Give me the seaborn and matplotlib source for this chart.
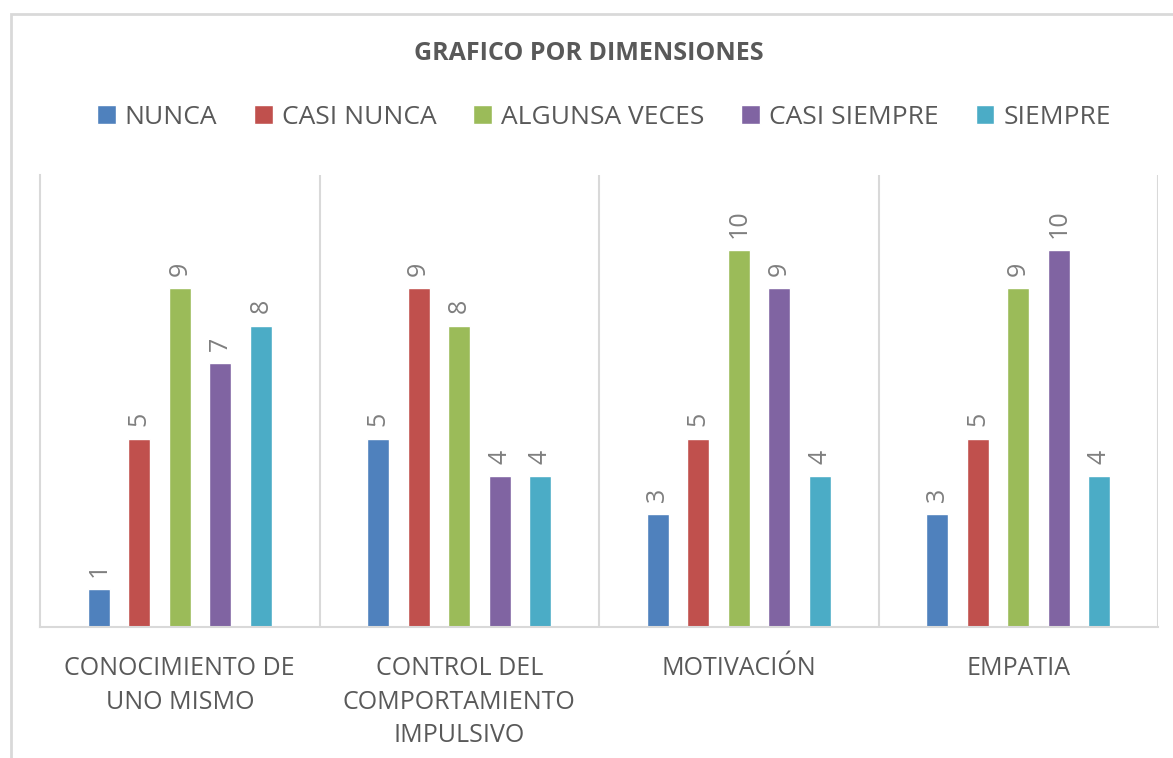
import numpy as np
import pandas as pd
import matplotlib
matplotlib.use("Agg")
import matplotlib.pyplot as plt
import matplotlib.patches as mpatches
import seaborn as sns

# datos
dimensiones = ["CONOCIMIENTO DE\nUNO MISMO", "CONTROL DEL\nCOMPORTAMIENTO\nIMPULSIVO",
               "MOTIVACIÓN", "EMPATIA"]
respuestas = ["NUNCA", "CASI NUNCA", "ALGUNSA VECES", "CASI SIEMPRE", "SIEMPRE"]
nunca = [1, 5, 3, 3]
casi_nunca = [5, 9, 5, 5]
algunas_veces = [9, 8, 10, 9]
casi_siempre = [7, 4, 9, 10]
siempre = [8, 4, 4, 4]

colores = ["#4F81BD", "#C0504D", "#9BBB59", "#8064A2", "#4BACC6"]
GRIS = "#595959"
LINEA = "#D9D9D9"

df = pd.DataFrame({
    "dimension": dimensiones * 5,
    "respuesta": np.repeat(respuestas, len(dimensiones)),
    "valor": nunca + casi_nunca + algunas_veces + casi_siempre + siempre,
})

sns.set_theme(style="white")
plt.rcParams["font.family"] = ["Open Sans", "DejaVu Sans"]

fig = plt.figure(figsize=(11.73, 7.58), dpi=100)
ax = fig.add_axes([40 / 1173, 1 - 627 / 758, 1118 / 1173, 452 / 758])

sns.barplot(data=df, x="dimension", y="valor", hue="respuesta", order=dimensiones,
            hue_order=respuestas, palette=colores, width=0.725, gap=0.46,
            saturation=1, ax=ax, legend=True)

for cont in ax.containers:
    ax.bar_label(cont, rotation=90, padding=9, fontsize=18, color="#7F7F7F")

ax.set_ylim(0, 12)
ax.set_xlim(-0.5, 3.5)
ax.set_yticks([])
ax.set_xlabel("")
ax.set_ylabel("")
for s in ["top", "right"]:
    ax.spines[s].set_visible(False)
ax.spines["left"].set_color(LINEA)
ax.spines["bottom"].set_color(LINEA)
ax.spines["left"].set_linewidth(1.5)
ax.spines["bottom"].set_linewidth(1.5)
for xv in [0.5, 1.5, 2.5, 3.5]:
    ax.axvline(xv, color=LINEA, lw=1.5, zorder=0)

ax.tick_params(axis="x", length=0, pad=21)
ax.set_xticks(range(len(dimensiones)))
ax.set_xticklabels(dimensiones, fontsize=18, color=GRIS, linespacing=1.45)

handles, labels = ax.get_legend_handles_labels()
ax.get_legend().remove()
fig.legend(handles, labels, loc="center", bbox_to_anchor=(604 / 1173, 1 - 117 / 758),
           ncol=5, frameon=False, fontsize=19, labelcolor=GRIS,
           handlelength=0.7, handleheight=0.7, handletextpad=0.35, columnspacing=1.4)

fig.text(589 / 1173, 1 - 53 / 758, "GRAFICO POR DIMENSIONES", ha="center", va="center",
         fontsize=18, fontweight="bold", color=GRIS)

# marco exterior del grafico
marco = mpatches.Rectangle((11 / 1173, -0.1), 1.2, 1.1 - 14 / 758, transform=fig.transFigure,
                           fill=False, edgecolor=LINEA, lw=2)
fig.patches.append(marco)

fig.savefig("out.png", dpi=100)
